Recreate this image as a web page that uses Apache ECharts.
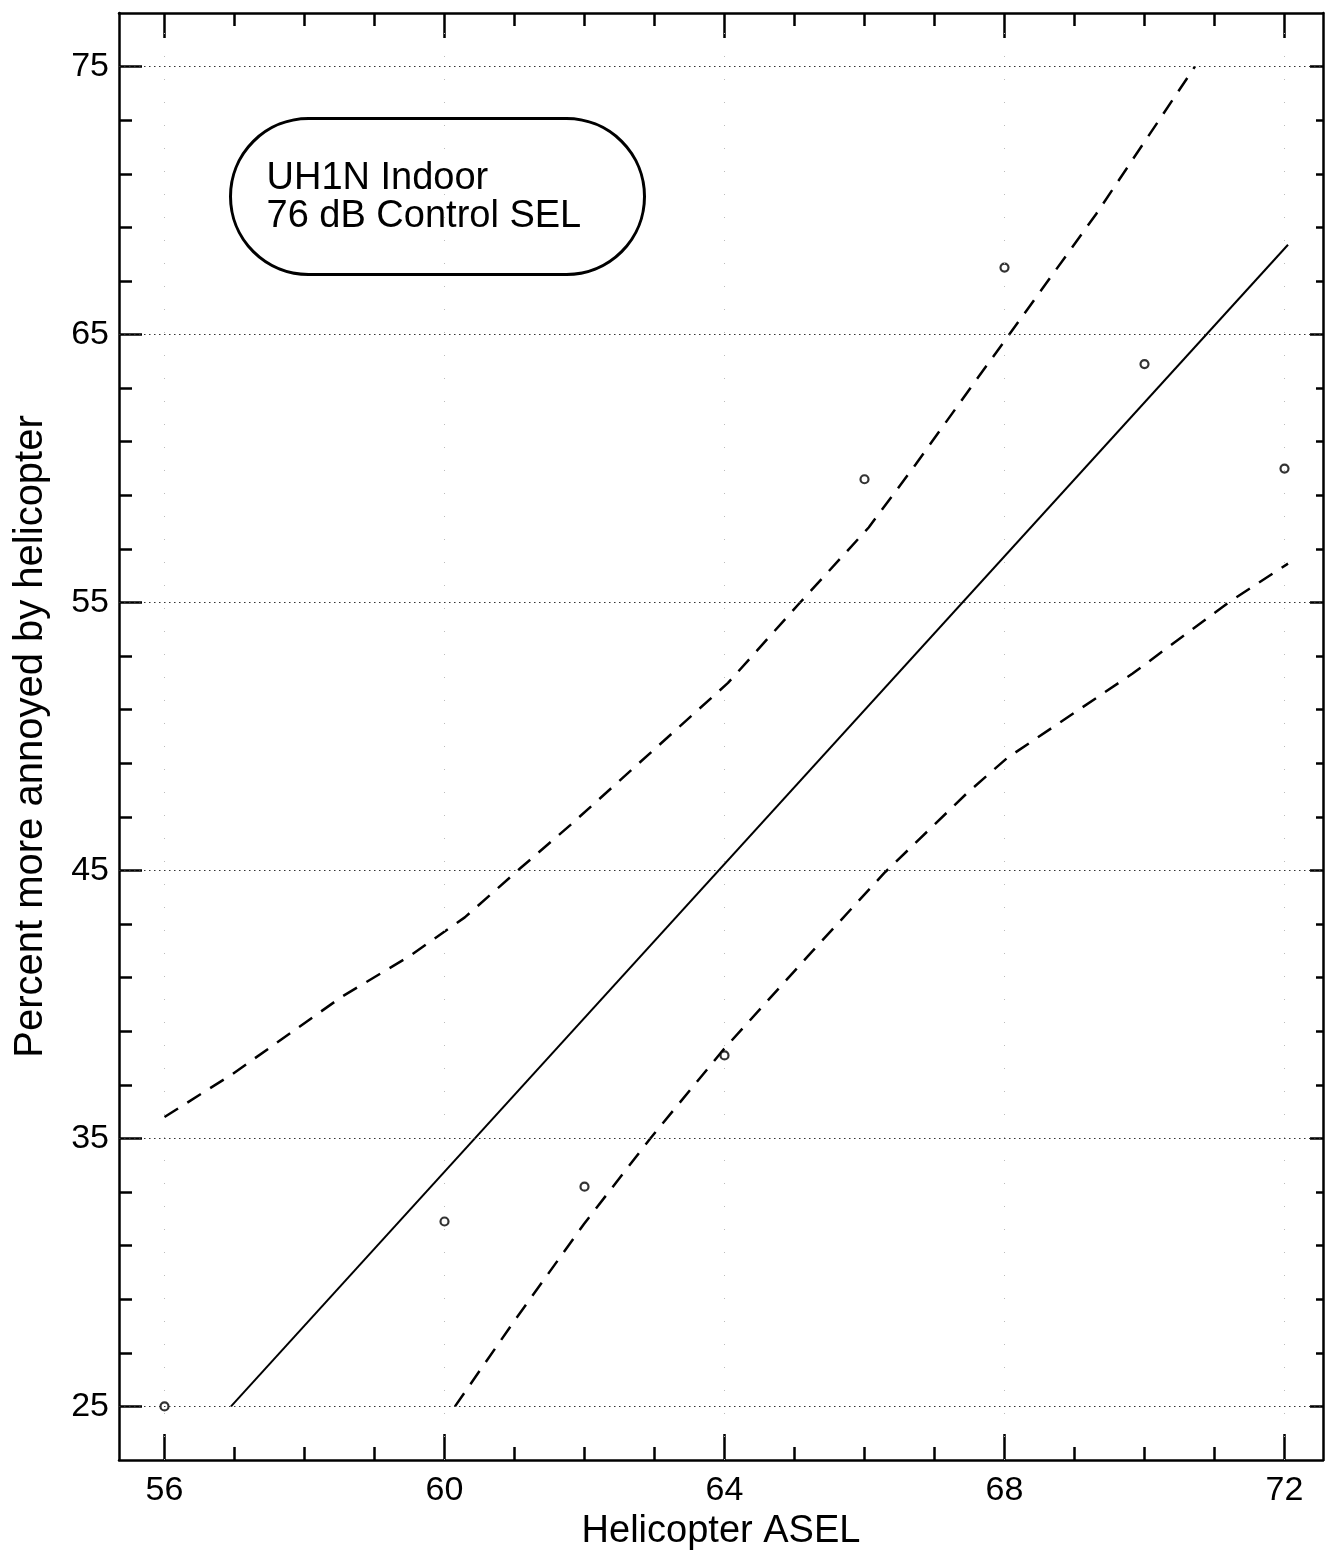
<!DOCTYPE html>
<html>
<head>
<meta charset="utf-8">
<script src="https://cdn.jsdelivr.net/npm/echarts@6/dist/echarts.min.js"></script>
<style>
  html, body { margin: 0; padding: 0; background: #fff; }
  #chart { width: 1326px; height: 1560px; }
</style>
</head>
<body>
<div id="chart"></div>
<script>
// ---------- DATA ----------
const pointX = [56, 60, 62, 64, 66, 68, 70, 72];
const pointY = [25.0, 31.9, 33.2, 38.1, 59.6, 67.5, 63.9, 60.0];

const fitX = [56.95, 72.05];
const fitY = [25.0, 68.35];

const upperX = [56.0, 56.97, 58.54, 59.5, 60.29, 61.09, 61.8, 64.05, 65.08, 66.06, 66.73, 67.58, 68.04, 69.31, 70.72];
const upperY = [35.8, 37.4, 40.3, 41.8, 43.25, 45.1, 46.7, 52.0, 55.0, 57.8, 60.15, 63.25, 64.9, 69.5, 75.0];

const lowerX = [60.15, 61.0, 61.99, 62.94, 63.98, 65.26, 66.28, 67.47, 68.04, 69.83, 71.2, 72.05];
const lowerY = [25.0, 28.2, 31.8, 35.0, 38.3, 42.0, 44.9, 47.9, 49.2, 52.35, 55.0, 56.45];

const xMajorTicks = [56, 60, 64, 68, 72];
const xMinorTicks = [57, 58, 59, 61, 62, 63, 65, 66, 67, 69, 70, 71];
const yMajorTicks = [25, 35, 45, 55, 65, 75];
const yMinorTicks = [27, 29, 31, 33, 37, 39, 41, 43, 47, 49, 51, 53, 57, 59, 61, 63, 67, 69, 71, 73];

const xTitle = 'Helicopter ASEL';
const yTitle = 'Percent more annoyed by helicopter';
const boxText = 'UH1N Indoor\n76 dB Control SEL';

const X_MIN = 55.35, X_MAX = 72.55, Y_MIN = 23, Y_MAX = 77;
// ---------- CHART ----------
const FONT = '"Liberation Sans", Arial, Helvetica, sans-serif';
const chart = echarts.init(document.getElementById('chart'), null, { renderer: 'canvas' });

const zip = (xs, ys) => xs.map((x, i) => [x, ys[i]]);
const axLine = { show: true, onZero: false, lineStyle: { color: '#000', width: 2.5 } };
const noLine = { show: false };
const tickStyle = { color: '#000', width: 2.5 };

function xAxisDef(pos, vals, len, withLine, withLabels) {
  return {
    type: 'value', position: pos, min: X_MIN, max: X_MAX,
    axisLine: withLine ? axLine : noLine,
    axisTick: { show: true, inside: true, length: len, customValues: vals, lineStyle: tickStyle },
    axisLabel: withLabels ? {
      show: true, customValues: xMajorTicks, fontSize: 34, color: '#000', fontFamily: FONT, margin: 14
    } : { show: false },
    splitLine: { show: false }
  };
}
function yAxisDef(pos, vals, len, withLine, withLabels) {
  return {
    type: 'value', position: pos, min: Y_MIN, max: Y_MAX,
    axisLine: withLine ? axLine : noLine,
    axisTick: { show: true, inside: true, length: len, customValues: vals, lineStyle: tickStyle },
    axisLabel: withLabels ? {
      show: true, customValues: yMajorTicks, fontSize: 34, color: '#000', fontFamily: FONT, margin: 10
    } : { show: false },
    splitLine: { show: false }
  };
}

const xA0 = xAxisDef('bottom', xMinorTicks.concat(xMajorTicks), 13, true, true);
xA0.name = xTitle;
xA0.nameLocation = 'middle';
xA0.nameGap = 52;
xA0.nameTextStyle = { fontSize: 38, color: '#000', fontFamily: FONT };

const yA0 = yAxisDef('left', yMinorTicks.concat(yMajorTicks), 13, true, true);
yA0.name = yTitle;
yA0.nameLocation = 'middle';
yA0.nameGap = 68;
yA0.nameTextStyle = { fontSize: 40, color: '#000', fontFamily: FONT };

const option = {
  backgroundColor: '#fff',
  animation: false,
  grid: { left: 119, right: 3, top: 13, bottom: 100, containLabel: false },
  xAxis: [
    xA0,
    xAxisDef('bottom', xMajorTicks, 26, false, false),
    xAxisDef('top', xMinorTicks.concat(xMajorTicks), 13, true, false),
    xAxisDef('top', xMajorTicks, 25, false, false)
  ],
  yAxis: [
    yA0,
    yAxisDef('left', yMajorTicks, 23, false, false),
    yAxisDef('right', yMinorTicks.concat(yMajorTicks), 7, true, false),
    yAxisDef('right', yMajorTicks, 13, false, false)
  ],
  series: [
    {
      type: 'line', name: 'gridH', data: [], silent: true,
      markLine: {
        silent: true, symbol: 'none', label: { show: false },
        lineStyle: { color: '#333', width: 1, type: [1.5, 3.5] },
        data: yMajorTicks.map(v => ({ yAxis: v }))
      }
    },
    {
      type: 'line', name: 'gridV', data: [], silent: true,
      markLine: {
        silent: true, symbol: 'none', label: { show: false },
        lineStyle: { color: '#bbb', width: 1, type: [1, 22] },
        data: xMajorTicks.map(v => ({ xAxis: v }))
      }
    },
    {
      type: 'line', name: 'fit', data: zip(fitX, fitY), showSymbol: false,
      lineStyle: { color: '#000', width: 2 }, z: 3
    },
    {
      type: 'line', name: 'upper', data: zip(upperX, upperY), showSymbol: false,
      lineStyle: { color: '#000', width: 2.5, type: [16, 11] }, z: 3
    },
    {
      type: 'line', name: 'lower', data: zip(lowerX, lowerY), showSymbol: false,
      lineStyle: { color: '#000', width: 2.5, type: [16, 11] }, z: 3
    },
    {
      type: 'scatter', name: 'points', data: zip(pointX, pointY),
      symbol: 'circle', symbolSize: 8,
      itemStyle: { color: '#fff', borderColor: '#000', borderWidth: 2.2 }, z: 4
    }
  ],
  graphic: [
    {
      type: 'group', left: 229, top: 117, z: 10,
      children: [
        {
          type: 'rect', shape: { x: 0, y: 0, width: 414, height: 156, r: 78 },
          style: { fill: '#fff', stroke: '#000', lineWidth: 3 }
        },
        {
          type: 'text', x: 36, y: 79,
          style: {
            text: boxText, fill: '#000', font: '38px ' + FONT,
            lineHeight: 38, verticalAlign: 'middle', align: 'left'
          }
        }
      ]
    }
  ]
};
chart.setOption(option);
</script>
</body>
</html>
